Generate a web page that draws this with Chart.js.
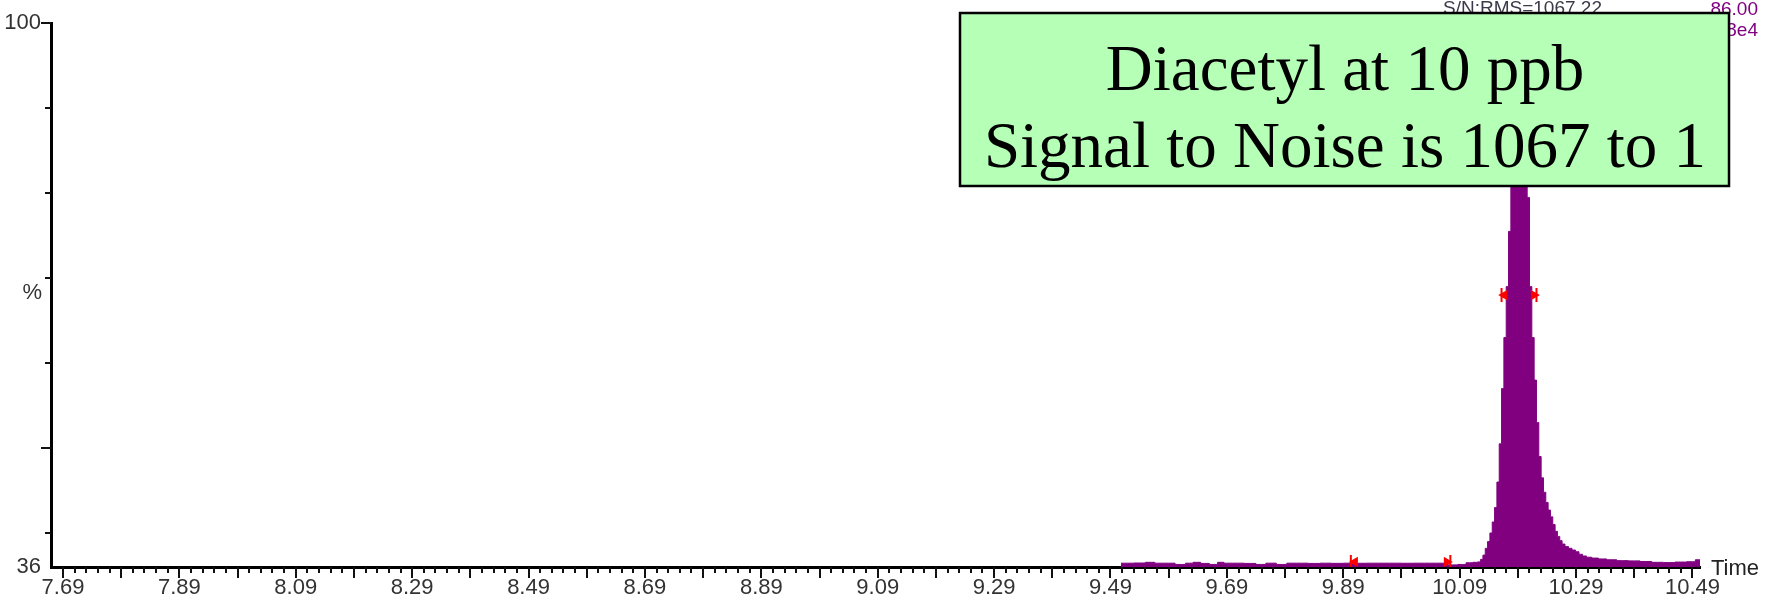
<!DOCTYPE html>
<html>
<head>
<meta charset="utf-8">
<script src="https://cdn.jsdelivr.net/npm/chart.js@4.4.0/dist/chart.umd.min.js"></script>
<style>
body { margin: 0; background: #fff; }
#chart { display: block; }
</style>
</head>
<body>
<canvas id="chart" width="1766" height="599"></canvas>
<script>
// chromatogram trace (retention time in min, intensity in %)
let times = [
    9.508, 9.520, 9.540, 9.560, 9.572, 9.590, 9.612, 9.626, 9.638, 9.652,
    9.668, 9.680, 9.690, 9.710, 9.730, 9.750, 9.764, 9.786, 9.800, 9.820,
    9.840, 9.860, 9.880, 9.900, 9.920, 9.940, 9.960, 9.980, 10.000, 10.020,
    10.040, 10.060, 10.078, 10.095, 10.107, 10.118, 10.124,
    10.128, 10.132, 10.136, 10.140, 10.144, 10.148, 10.152, 10.156, 10.160, 10.164,
    10.168, 10.172, 10.176, 10.180, 10.184, 10.188, 10.192, 10.196, 10.200, 10.204,
    10.208, 10.212, 10.216, 10.220, 10.224, 10.228, 10.232, 10.236, 10.240, 10.244,
    10.248, 10.252, 10.256, 10.260, 10.264, 10.268, 10.274, 10.280, 10.286, 10.292,
    10.298, 10.304, 10.312, 10.322, 10.335, 10.350, 10.370, 10.390, 10.410, 10.430,
    10.450, 10.470, 10.490, 10.500, 10.506
];
let intensity = [
    36.45, 36.45, 36.47, 36.55, 36.45, 36.45, 36.30, 36.45, 36.55, 36.42,
    36.30, 36.55, 36.45, 36.45, 36.42, 36.30, 36.45, 36.30, 36.45, 36.45,
    36.42, 36.45, 36.43, 36.45, 36.44, 36.45, 36.45, 36.45, 36.44, 36.45,
    36.45, 36.45, 36.25, 36.30, 36.50, 36.55, 36.60,
    36.9, 37.4, 38.2, 39.0, 40.0, 41.3, 43.0, 46.0, 50.5, 57.0,
    63.0, 69.0, 75.5, 82.0, 89.0, 95.0, 99.0, 100.0, 95.5, 88.0,
    79.5, 69.0, 63.0, 58.0, 53.0, 49.0, 46.5, 44.8, 43.6, 42.7,
    41.9, 41.0, 40.2, 39.6, 39.1, 38.7, 38.4, 38.2, 38.0, 37.8,
    37.5, 37.3, 37.15, 37.05, 36.95, 36.85, 36.75, 36.72, 36.65, 36.55,
    36.52, 36.58, 36.62, 36.85, 36.85
];

let timeLabels = ["7.69", "7.89", "8.09", "8.29", "8.49", "8.69", "8.89", "9.09",
    "9.29", "9.49", "9.69", "9.89", "10.09", "10.29", "10.49"];
let yTicks = [36, 40, 50, 60, 70, 80, 90, 100];
let yLabels = ["36", "100"];

// integration / peak width markers
let markerTimes = [9.903, 9.910, 10.068, 10.074, 10.162, 10.1665, 10.2175, 10.222];
let markerLevels = [36.6, 36.6, 36.6, 36.6, 68, 68, 68, 68];
let markerShapes = ["line", "triangle", "triangle", "line", "line", "triangle", "triangle", "line"];
let markerTurns = [90, -90, 90, 90, 90, -90, 90, 90];

let sansFont = '"Liberation Sans", Arial, sans-serif';

function drawText(ctx, text, x, y, align, baseline, color, font) {
    ctx.fillStyle = color;
    ctx.font = font;
    ctx.textAlign = align;
    ctx.textBaseline = baseline;
    ctx.fillText(text, x, y);
}

const chromePlugin = {
    id: 'chrome',
    afterDraw(chart) {
        let ctx = chart.ctx, xs = chart.scales.x, ys = chart.scales.y, area = chart.chartArea;
        ctx.save();
        ctx.strokeStyle = '#111';
        ctx.lineWidth = 2;
        xs.ticks.forEach((t, i) => {
            let px = Math.round(xs.getPixelForValue(t.value));
            let len = i % 5 === 0 ? 11 : 6;
            ctx.beginPath();
            ctx.moveTo(px, area.bottom);
            ctx.lineTo(px, area.bottom + len);
            ctx.stroke();
        });
        ys.ticks.forEach(t => {
            if (t.value === 36) return;
            let py = Math.round(ys.getPixelForValue(t.value));
            let len = (t.value === 50 || t.value === 100) ? 10 : 6;
            ctx.beginPath();
            ctx.moveTo(area.left, py);
            ctx.lineTo(area.left - len, py);
            ctx.stroke();
        });

        let f = '22px ' + sansFont;
        drawText(ctx, '%', 42, ys.getPixelForValue(68.2), 'right', 'middle', '#333', f);
        drawText(ctx, 'Time', area.right + 11, area.bottom + 2, 'left', 'middle', '#222', f);
        let g = '19px ' + sansFont;
        drawText(ctx, 'S/N:RMS=1067.22', 1443, 9, 'left', 'middle', '#3a3a48', g);
        drawText(ctx, '86.00', 1758, 10, 'right', 'middle', '#800080', g);
        drawText(ctx, '1.08e4', 1758, 31, 'right', 'middle', '#800080', g);

        // annotation box
        ctx.fillStyle = '#b6ffb6';
        ctx.fillRect(960, 13, 769, 173);
        ctx.strokeStyle = '#000';
        ctx.lineWidth = 2.5;
        ctx.strokeRect(960, 13, 769, 173);
        let serif = '65px "Liberation Serif", "Times New Roman", serif';
        drawText(ctx, 'Diacetyl at 10 ppb', 1345, 90, 'center', 'alphabetic', '#000', serif);
        drawText(ctx, 'Signal to Noise is 1067 to 1', 1345, 167, 'center', 'alphabetic', '#000', serif);
        ctx.restore();
    }
};

new Chart(document.getElementById('chart'), {
    type: 'line',
    data: {
        datasets: [{
            data: markerTimes.map((t, i) => ({x: t, y: markerLevels[i]})),
            showLine: false,
            pointStyle: markerShapes,
            rotation: markerTurns,
            pointRadius: [7, 4, 4, 7, 7, 4, 4, 7],
            borderColor: '#ff0000',
            backgroundColor: '#ff0000',
            borderWidth: 2,
            order: 0
        }, {
            data: times.map((t, i) => ({x: t, y: intensity[i]})),
            borderColor: '#800080',
            backgroundColor: '#800080',
            borderWidth: 1,
            pointRadius: 0,
            stepped: 'middle',
            fill: 'start',
            order: 1
        }]
    },
    options: {
        responsive: false,
        animation: false,
        devicePixelRatio: 1,
        layout: { padding: { left: 0, right: 66, top: 22, bottom: 0 } },
        plugins: { legend: { display: false }, tooltip: { enabled: false } },
        scales: {
            x: {
                type: 'linear',
                min: 7.6694,
                max: 10.503,
                grid: { display: false, drawTicks: false },
                border: { display: true, color: '#000', width: 3 },
                afterBuildTicks: scale => {
                    let first = parseFloat(timeLabels[0]);
                    let last = parseFloat(timeLabels[timeLabels.length - 1]);
                    let n = Math.round((last - first) / 0.02);
                    let ticks = [];
                    for (let i = 0; i <= n; i++) {
                        ticks.push({value: +(first + i * 0.02).toFixed(2)});
                    }
                    scale.ticks = ticks;
                },
                afterFit: scale => { scale.height = 32; },
                ticks: {
                    autoSkip: false,
                    maxRotation: 0,
                    padding: 8,
                    color: '#333',
                    font: { family: sansFont, size: 22 },
                    callback: (v, i) => i % 10 === 0 ? timeLabels[i / 10] : ''
                }
            },
            y: {
                min: 36,
                max: 100,
                grid: { display: false, drawTicks: false },
                border: { display: true, color: '#000', width: 3 },
                afterBuildTicks: scale => { scale.ticks = yTicks.map(v => ({value: v})); },
                afterFit: scale => { scale.width = 51; },
                ticks: {
                    padding: 10,
                    color: '#333',
                    font: { family: sansFont, size: 22 },
                    callback: v => yLabels.includes(String(v)) ? String(v) : ''
                }
            }
        }
    },
    plugins: [chromePlugin]
});
</script>
</body>
</html>
